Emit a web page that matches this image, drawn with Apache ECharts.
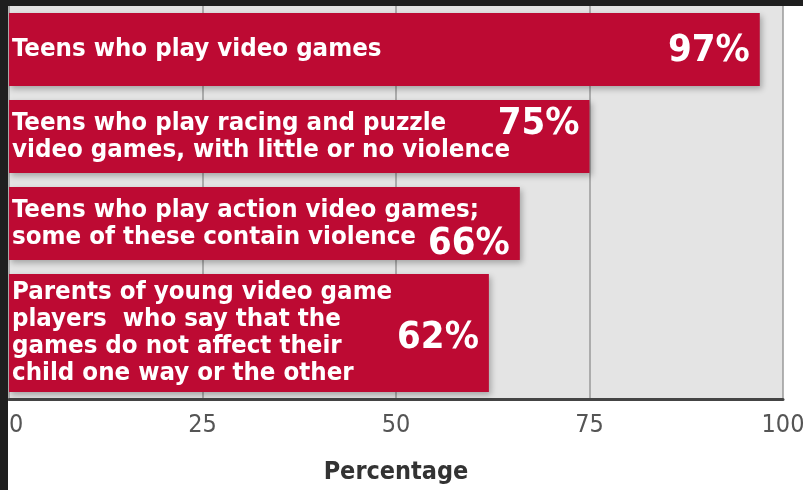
<!DOCTYPE html>
<html>
<head>
<meta charset="utf-8">
<script src="https://cdn.jsdelivr.net/npm/echarts@6/dist/echarts.min.js"></script>
<style>
  html, body { margin: 0; padding: 0; background: #ffffff; }
  #wrap { position: relative; width: 803px; height: 490px; overflow: hidden; }
  #chart { position: absolute; left: 0; top: 0; width: 803px; height: 490px; }
  .band { position: absolute; background: #1f1f1f; }
</style>
</head>
<body>
<div id="wrap">
  <div id="chart"></div>
  <div class="band" style="left:0;top:0;width:803px;height:6px;"></div>
  <div class="band" style="left:0;top:0;width:8px;height:490px;"></div>
</div>
<script>
// ---- data ----
const categories = [
  "Teens who play video games",
  "Teens who play racing and puzzle\nvideo games, with little or no violence",
  "Teens who play action video games;\nsome of these contain violence",
  "Parents of young video game\nplayers  who say that the\ngames do not affect their\nchild one way or the other"
];
const values = [97, 75, 66, 62];
const xTicks = [0, 25, 50, 75, 100];
const axisTitle = "Percentage";

// ---- layout / style (not data) ----
const pctOffsetY = [2, -12, 21, 5];
const barColor = '#bd0a33';
const descFont = 'DejaVu Sans Condensed, DejaVu Sans, sans-serif';

const chart = echarts.init(document.getElementById('chart'), null, { renderer: 'canvas' });

const groups = [[0, 1, 2], [3]];
const gridDefs = [
  { left: 9, width: 774, top: 6, height: 261 },
  { left: 9, width: 774, top: 267, height: 132 }
];
const barWidths = [73, 118];

const grids = [], xAxes = [], yAxes = [], series = [];
groups.forEach((idx, g) => {
  grids.push(Object.assign({ show: true, backgroundColor: '#e4e4e4', borderWidth: 0,
    containLabel: false, outerBoundsMode: 'none' }, gridDefs[g]));
  const last = g === groups.length - 1;
  xAxes.push({
    gridIndex: g, type: 'value', min: xTicks[0], max: xTicks[xTicks.length - 1],
    interval: xTicks[1] - xTicks[0],
    axisTick: { show: false },
    axisLine: { show: last, onZero: false, lineStyle: { color: '#444', width: 3 } },
    axisLabel: {
      show: last, color: '#555', fontSize: 25, margin: 14,
      fontFamily: 'Liberation Sans Narrow, DejaVu Sans Condensed, sans-serif',
      alignMinLabel: 'left'
    },
    splitLine: { show: true, lineStyle: { color: '#9a9a9a', width: 1.5 } },
    name: last ? axisTitle : '',
    nameLocation: 'middle', nameGap: 61,
    nameTextStyle: { fontSize: 25, fontWeight: 'bold', color: '#333', fontFamily: descFont }
  });
  yAxes.push({
    gridIndex: g, type: 'category', inverse: true, show: false,
    data: idx.map(i => categories[i])
  });
  series.push({
    type: 'bar', xAxisIndex: g, yAxisIndex: g,
    barWidth: barWidths[g],
    data: idx.map(i => values[i]),
    itemStyle: {
      color: barColor,
      shadowColor: 'rgba(0,0,0,0.28)', shadowBlur: 6, shadowOffsetX: 2, shadowOffsetY: 3
    },
    label: {
      show: true, position: 'insideLeft', distance: 3,
      formatter: p => p.name,
      color: '#ffffff', fontSize: 25.6, fontWeight: 'bold', lineHeight: 27,
      fontFamily: descFont
    }
  });
  series.push({
    type: 'scatter', xAxisIndex: g, yAxisIndex: g,
    symbolSize: 0, silent: true,
    itemStyle: { opacity: 1 },
    data: idx.map(i => ({
      value: [values[i], categories[i]],
      label: { offset: [0, pctOffsetY[i]] }
    })),
    label: {
      show: true, position: 'left', distance: 10,
      formatter: p => p.value[0] + '%',
      color: '#ffffff', opacity: 1, fontSize: 38, fontWeight: 'bold', fontFamily: descFont
    }
  });
});

chart.setOption({
  animation: false,
  backgroundColor: '#ffffff',
  grid: grids, xAxis: xAxes, yAxis: yAxes, series: series
});
</script>
</body>
</html>
